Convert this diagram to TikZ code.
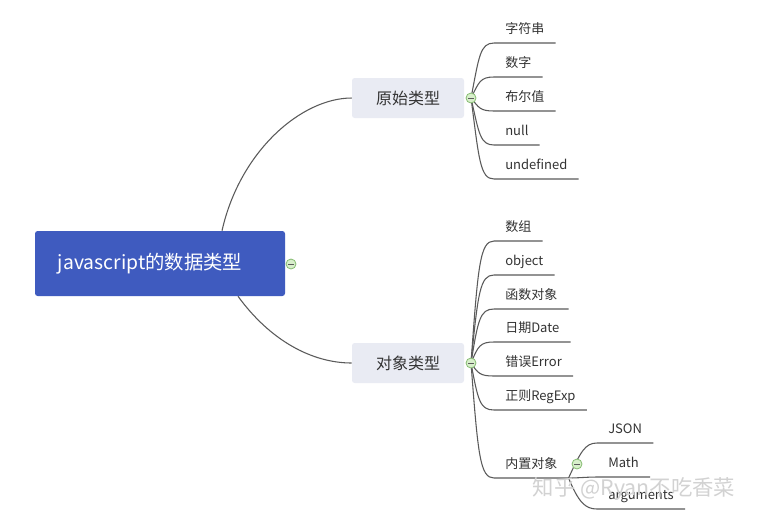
\documentclass[tikz,border=0pt]{standalone}
\usepackage{fontspec}
\setmainfont{Noto Sans CJK SC}
\usetikzlibrary{calc}
\definecolor{rootblue}{HTML}{3F5BBF}
\definecolor{boxgray}{HTML}{E9EBF3}
\definecolor{linegray}{HTML}{5A5A5A}
\definecolor{txt}{HTML}{333333}
\definecolor{cfill}{HTML}{D8EFCB}
\definecolor{cdraw}{HTML}{86BC72}
\definecolor{wmgray}{HTML}{D2D2D2}
\begin{document}
\begin{tikzpicture}[x=0.75pt,y=-0.75pt,
 rootbox/.style={fill=rootblue, rounded corners=2pt, text=white, font=\fontsize{14.5}{17}\selectfont, minimum width=187.5pt, minimum height=48.75pt, inner sep=0},
 mainbox/.style={fill=boxgray, rounded corners=2pt, text=txt, font=\fontsize{12}{14}\selectfont, minimum width=84pt, minimum height=30pt, inner sep=0},
 leaf/.style={anchor=south west, text=txt, font=\fontsize{9.75}{11}\selectfont, inner xsep=8.25pt, inner ysep=4.8pt, text height=0.8em, text depth=0.2em},
 conn/.style={draw=linegray, line width=0.8pt},
 toggle/.style={circle, fill=cfill, draw=cdraw, line width=0.6pt, minimum size=7.5pt, inner sep=0,
   path picture={\draw[linegray, line width=0.5pt] ([xshift=-2pt]path picture bounding box.center) -- ([xshift=2pt]path picture bounding box.center);}},
]
\useasboundingbox (0,0) rectangle (759,522);
\fill[white] (0,0) rectangle (759,522);

% root and main topics
\node[rootbox] (root) at (160,263.5) {javascript的数据类型\kern15pt};
\node[mainbox] (ma) at (408,98) {原始类型};
\node[mainbox] (mb) at (408,363) {对象类型};
\coordinate (rt) at ([xshift=46.5pt]root.north);
\coordinate (rb) at ([xshift=58.5pt]root.south);
\draw[conn] (rt) .. controls +(18,-80) and +(-50,0) .. (ma.west);
\draw[conn] (rb) .. controls +(32,44) and +(-40,0) .. (mb.west);

% group A
\coordinate (ta) at (471,98);
\foreach \n/\t/\y in {a1/字符串/43, a2/数字/77, a3/布尔值/111, a4/null/145, a5/undefined/179}{
  \node[leaf] (\n) at (494,\y) {\t};
  \pgfmathsetmacro{\dy}{0.75*(\y-98)}
  \draw[conn] (ta) .. controls +(8,\dy) and +(-14,0) .. (\n.south west) -- (\n.south east);
}

% group B
\coordinate (tb) at (471,363);
\foreach \n/\t/\y in {b1/数组/241, b2/object/275, b3/函数对象/309, b4/日期Date/342, b5/错误Error/376, b6/正则RegExp/410, nz/内置对象/478}{
  \node[leaf] (\n) at (494,\y) {\t};
  \pgfmathsetmacro{\dy}{0.8*(\y-363)}
  \draw[conn] (tb) .. controls +(7,\dy) and +(-14,0) .. (\n.south west) -- (\n.south east);
}

% built-in objects
\node[leaf] (c1) at (597,443) {JSON};
\node[leaf] (c2) at (597,477) {Math};
\node[leaf] (c3) at (597,509) {arguments};
\draw[conn] (nz.south east) .. controls +(12,-26) and +(-12,0) .. (c1.south west) -- (c1.south east);
\draw[conn] (nz.south east) .. controls +(10,0) and +(-10,0) .. (c2.south west) -- (c2.south east);
\draw[conn] (nz.south east) .. controls +(10,24) and +(-12,0) .. (c3.south west) -- (c3.south east);

% toggles
\node[toggle] (tr) at (291,264) {};
\node[toggle] (tac) at (ta) {};
\node[toggle] (tbc) at (tb) {};
\node[toggle] (tnz) at (577,464) {};

% watermark
\node[text=wmgray, font=\fontsize{16}{19}\selectfont, inner sep=0] (wm) at (634,489) {知乎 @Ryan不吃香菜};
\end{tikzpicture}
\end{document}
